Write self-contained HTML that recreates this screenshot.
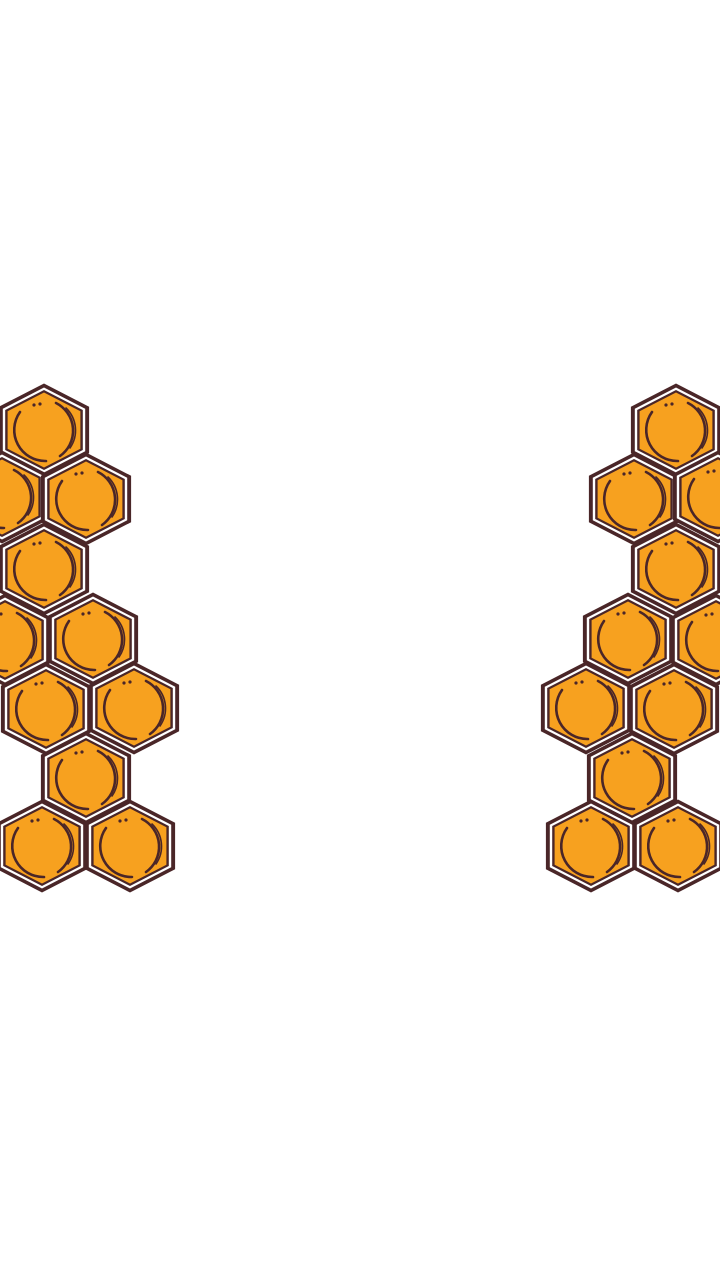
<!DOCTYPE html>
<html><head><meta charset="utf-8">
<style>
html,body{margin:0;padding:0;background:#fff;width:720px;height:1280px;overflow:hidden}
svg{display:block}
</style></head>
<body>
<svg id="art" width="720" height="1280" viewBox="0 0 720 1280" xmlns="http://www.w3.org/2000/svg">
<g id="left"></g>
<g id="right"></g>
</svg>
<script>
const leftX = [44, 2, 86, 44, 5, 93, 46, 134, 86, 42, 130];
const leftY = [430, 497, 499, 569, 640, 639, 709, 708, 778, 846, 846];
const rightX = [676, 634, 718, 676, 628, 716, 586, 674, 632, 591, 678];
const rightY = [430, 499, 497, 569, 639, 640, 708, 709, 778, 846, 846];
const NS = 'http://www.w3.org/2000/svg';
const SX = 1.12;
function hexPts(r){
  let p=[];
  for(let i=0;i<6;i++){const a=Math.PI/180*(60*i-90);p.push((r*Math.cos(a)*SX).toFixed(1)+','+(r*Math.sin(a)).toFixed(1));}
  return p.join(' ');
}
function poly(g, r, fill){
  const e=document.createElementNS(NS,'polygon');
  e.setAttribute('points',hexPts(r));
  e.setAttribute('fill',fill);
  g.appendChild(e);
}
function path(g,d,w){
  const e=document.createElementNS(NS,'path');
  e.setAttribute('d',d);
  e.setAttribute('fill','none');e.setAttribute('stroke','#4a2628');e.setAttribute('stroke-width',w);e.setAttribute('stroke-linecap','round');
  g.appendChild(e);
}
function cell(parent, cx, cy){
  const g=document.createElementNS(NS,'g');
  
  
  g.setAttribute('transform',`translate(${cx},${cy})`);
  poly(g,46.5,'#4a2628');
  poly(g,42.5,'#ffffff');
  poly(g,40,'#4a2628');
  poly(g,37.5,'#f7a11f');
  path(g,'M -24 -18 A 31 31 0 0 0 2 31','2.6');
  path(g,'M 12 -27 A 31 31 0 0 1 16 26','2.6');
  path(g,'M 22 -22 A 31 31 0 0 1 26 18','1.6');
  [[-10,-25],[-4,-26]].forEach(d=>{
    const c=document.createElementNS(NS,'circle');
    c.setAttribute('cx',d[0]);c.setAttribute('cy',d[1]);c.setAttribute('r','1.6');c.setAttribute('fill','#4a2628');
    g.appendChild(c);
  });
  parent.appendChild(g);
}
const L=document.getElementById('left'), R=document.getElementById('right');
leftX.forEach((x,i)=>cell(L,x,leftY[i]));
rightX.forEach((x,i)=>cell(R,x,rightY[i]));
</script>
</body></html>
